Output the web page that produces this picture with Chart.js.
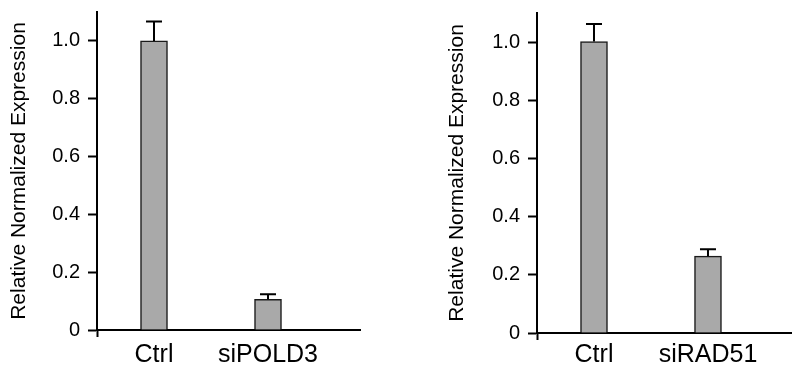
<!DOCTYPE html>
<html>
<head>
<meta charset="utf-8">
<script src="https://cdn.jsdelivr.net/npm/chart.js@4.4.1/dist/chart.umd.min.js"></script>
<style>
  html, body { margin: 0; padding: 0; background: #fff; }
  #wrap { position: relative; width: 792px; height: 368px; overflow: hidden; }
  canvas { position: absolute; top: 0; }
  #graficoEsq { left: 0; }
  #graficoDir { left: 440px; }
</style>
</head>
<body>
<div id="wrap">
  <canvas id="graficoEsq" width="400" height="368"></canvas>
  <canvas id="graficoDir" width="352" height="368"></canvas>
</div>
<script>
// dados
const categoriasEsq = ['Ctrl', 'siPOLD3'];
const valoresEsq = [1.0, 0.106];
const errosEsq = [1.067, 0.124];   // topo da barra de erro

const categoriasDir = ['Ctrl', 'siRAD51'];
const valoresDir = [1.002, 0.264];
const errosDir = [1.062, 0.288];

const ticksY = [0, 0.2, 0.4, 0.6, 0.8, 1.0];
const maxY = 1.1;
const tituloY = 'Relative Normalized Expression';

const fonte = '"Liberation Sans", Arial, sans-serif';

// desenha so a parte de cima da barra de erro, com o "T"
const barrasDeErro = {
    id: 'barrasDeErro',
    afterDatasetsDraw(chart, args, opts) {
        const ctx = chart.ctx;
        const y = chart.scales.y;
        const meta = chart.getDatasetMeta(0);
        ctx.save();
        ctx.strokeStyle = '#000';
        ctx.lineWidth = 2;
        meta.data.forEach((barra, i) => {
            const topo = y.getPixelForValue(opts.topos[i]);
            ctx.beginPath();
            ctx.moveTo(barra.x, barra.y);
            ctx.lineTo(barra.x, topo);
            ctx.moveTo(barra.x - 8, topo);
            ctx.lineTo(barra.x + 8, topo);
            ctx.stroke();
        });
        ctx.restore();
    }
};

// tira o espaco extra que o Chart.js reserva para os rotulos das pontas
const semPadding = (s) => {
    s.paddingTop = 0;
    s.paddingBottom = 0;
    s.paddingLeft = 0;
    s.paddingRight = 0;
};

const criarGrafico = (id, categorias, valores, erros, cfg) => {
    const ctx = document.getElementById(id).getContext('2d');
    return new Chart(ctx, {
        type: 'bar',
        data: {
            datasets: [{
                data: valores.map((v, i) => ({ x: i, y: v })),
                backgroundColor: '#a9a9a9',
                borderColor: '#1a1a1a',
                borderWidth: 1.5,
                barThickness: 27
            }]
        },
        plugins: [barrasDeErro],
        options: {
            responsive: false,
            animation: false,
            events: [],
            layout: {
                padding: { left: cfg.padEsq, top: cfg.topo, right: cfg.padDir, bottom: 0 }
            },
            plugins: {
                legend: { display: false },
                tooltip: { enabled: false },
                barrasDeErro: { topos: erros }
            },
            scales: {
                x: {
                    type: 'linear',
                    min: -0.5,
                    max: cfg.maxX,
                    offset: false,
                    afterBuildTicks: (s) => { s.ticks = [-0.5, 0, 1].map(v => ({ value: v })); },
                    afterFit: (s) => { s.height = cfg.alturaX; semPadding(s); },
                    border: { display: true, color: '#000', width: 2 },
                    grid: {
                        display: true,
                        drawOnChartArea: false,
                        drawTicks: true,
                        offset: false,
                        tickLength: 7,
                        tickWidth: 2,
                        tickColor: (c) => (c.tick && c.tick.value === -0.5) ? '#000' : 'rgba(0,0,0,0)'
                    },
                    ticks: {
                        autoSkip: false,
                        maxRotation: 0,
                        padding: cfg.padLabel,
                        color: '#000',
                        font: { family: fonte, size: 25 },
                        callback: (v) => v === 0 ? categorias[0] : (v === 1 ? categorias[1] : '')
                    }
                },
                y: {
                    min: 0,
                    max: maxY,
                    afterBuildTicks: (s) => { s.ticks = ticksY.map(v => ({ value: v })); },
                    afterFit: (s) => { s.width = cfg.larguraY; semPadding(s); },
                    border: { display: true, color: '#000', width: 2 },
                    grid: {
                        display: true,
                        drawOnChartArea: false,
                        drawTicks: true,
                        tickLength: 9,
                        tickWidth: 2,
                        tickColor: '#000'
                    },
                    ticks: {
                        padding: 8,
                        color: '#000',
                        font: { family: fonte, size: 20 },
                        callback: (v) => v === 0 ? '0' : v.toFixed(1)
                    },
                    title: {
                        display: true,
                        text: tituloY,
                        color: '#000',
                        padding: 0,
                        font: { family: fonte, size: 21, lineHeight: 1.2 }
                    }
                }
            }
        }
    });
};

criarGrafico('graficoEsq', categoriasEsq, valoresEsq, errosEsq,
    { padEsq: 7, larguraY: 90, topo: 12, padDir: 40, alturaX: 38, padLabel: 3, maxX: 1.807 });
criarGrafico('graficoDir', categoriasDir, valoresDir, errosDir,
    { padEsq: 5, larguraY: 92, topo: 13, padDir: 0, alturaX: 35, padLabel: 0, maxX: 1.737 });
</script>
</body>
</html>
